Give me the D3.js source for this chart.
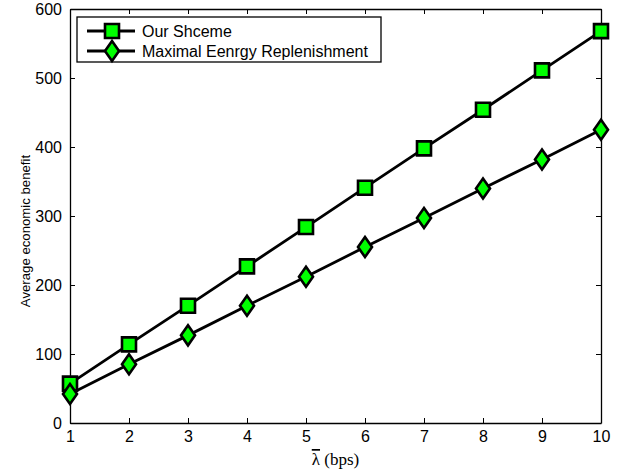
<!DOCTYPE html>
<html>
<head>
<meta charset="utf-8">
<script src="https://cdn.jsdelivr.net/npm/d3@7"></script>
<style>
  body { margin: 0; background: #fff; }
  svg text { font-family: "Liberation Sans", Arial, sans-serif; }
  .axis path, .axis line { stroke: #000; }
</style>
</head>
<body>
<svg id="chart" width="627" height="472"></svg>
<script>
var lambdas = [1, 2, 3, 4, 5, 6, 7, 8, 9, 10];
var ourScheme = [57, 114, 170, 227, 284, 341, 398, 454, 511, 568];
var maxReplenish = [42, 85, 127, 170, 212, 255, 297, 340, 382, 425];
var seriesNames = ["Our Shceme", "Maximal Eenrgy Replenishment"];
var yTicks = [0, 100, 200, 300, 400, 500, 600];

var svg = d3.select("#chart"),
    margin = {top: 9, right: 26, bottom: 49, left: 70},
    width = svg.attr("width") - margin.left - margin.right,
    height = svg.attr("height") - margin.top - margin.bottom,
    g = svg.append("g").attr("transform", "translate(" + margin.left + "," + margin.top + ")");

var x = d3.scaleLinear().domain([1, 10]).range([0, width]);
var y = d3.scaleLinear().domain([0, 600]).range([height, 0]);

// axes with inward ticks, mirrored on top and right
g.append("g")
    .attr("class", "axis")
    .attr("transform", "translate(0," + height + ")")
    .call(d3.axisBottom(x).tickValues(lambdas).tickSizeInner(-5).tickSizeOuter(0).tickPadding(8))
    .call(function(a) { a.selectAll("text").style("font-size", "16px"); });

g.append("g")
    .attr("class", "axis")
    .call(d3.axisLeft(y).tickValues(yTicks).tickSizeInner(-5).tickSizeOuter(0).tickPadding(8))
    .call(function(a) { a.selectAll("text").style("font-size", "16px"); });

g.append("g")
    .attr("class", "axis")
    .call(d3.axisTop(x).tickValues(lambdas).tickSizeInner(-5).tickSizeOuter(0).tickFormat(""));

g.append("g")
    .attr("class", "axis")
    .attr("transform", "translate(" + width + ",0)")
    .call(d3.axisRight(y).tickValues(yTicks).tickSizeInner(-5).tickSizeOuter(0).tickFormat(""));

g.selectAll(".axis path").attr("stroke-width", 1.3);

var line = d3.line()
    .x(function(d) { return x(d.x); })
    .y(function(d) { return y(d.y); });

function pts(vals) {
    return lambdas.map(function(l, i) { return {x: l, y: vals[i]}; });
}

var squarePath = "M-7,-7H7V7H-7Z";
var diamondPath = "M0,-10L7,0L0,10L-7,0Z";

function drawSeries(vals, markerPath) {
    g.append("path")
        .datum(pts(vals))
        .attr("fill", "none")
        .attr("stroke", "#000")
        .attr("stroke-width", 2.8)
        .attr("d", line);

    g.selectAll(null)
        .data(pts(vals))
        .enter().append("path")
        .attr("transform", function(d) { return "translate(" + x(d.x) + "," + y(d.y) + ")"; })
        .attr("d", markerPath)
        .attr("fill", "#00ff00")
        .attr("stroke", "#000")
        .attr("stroke-width", 2.6);
}

drawSeries(ourScheme, squarePath);
drawSeries(maxReplenish, diamondPath);

// legend
var legend = svg.append("g").attr("transform", "translate(77,17)");
legend.append("rect")
    .attr("width", 304).attr("height", 45)
    .attr("fill", "#fff").attr("stroke", "#000").attr("stroke-width", 1.3);

[squarePath, diamondPath].forEach(function(mk, i) {
    var row = legend.append("g").attr("transform", "translate(0," + (14 + i * 20) + ")");
    row.append("line").attr("x1", 10).attr("x2", 58)
        .attr("stroke", "#000").attr("stroke-width", 2.8);
    row.append("path").attr("transform", "translate(35,0)")
        .attr("d", mk).attr("fill", "#00ff00").attr("stroke", "#000").attr("stroke-width", 2.6);
    row.append("text").attr("x", 65).attr("dy", "0.36em")
        .style("font-size", "16px").text(seriesNames[i]);
});

// axis labels
svg.append("text")
    .attr("transform", "translate(25,231) rotate(-90)")
    .attr("text-anchor", "middle")
    .attr("dy", "0.36em")
    .style("font-size", "13.2px")
    .text("Average economic benefit");

var xl = svg.append("text")
    .attr("x", margin.left + width / 2)
    .attr("y", 465)
    .attr("text-anchor", "middle")
    .style("font-family", "'Liberation Serif', 'Times New Roman', serif")
    .style("font-size", "17px");
xl.append("tspan").style("text-decoration", "overline").text("λ");
xl.append("tspan").text(" (bps)");
</script>
</body>
</html>
